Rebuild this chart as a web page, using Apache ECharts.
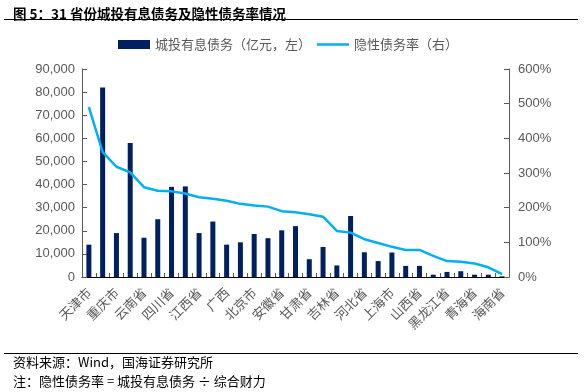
<!DOCTYPE html>
<html>
<head>
<meta charset="utf-8">
<script src="https://cdn.jsdelivr.net/npm/echarts@6/dist/echarts.min.js"></script>
<style>
html,body{margin:0;padding:0;background:#fff;}
#chart{width:588px;height:392px;}
</style>
</head>
<body>
<div id="chart"></div>
<script>
const categories = ['天津市','江苏省','重庆市','浙江省','云南省','湖南省','四川省','湖北省','江西省','山东省','广西','贵州省','北京市','河南省','安徽省','陕西省','甘肃省','宁夏','吉林省','新疆','河北省','福建省','上海市','广东省','山西省','辽宁省','黑龙江省','内蒙古','青海省','西藏','海南省'];
const debtValues = [14000,82000,19000,58000,17000,25000,39000,39200,19000,24000,14000,15000,18600,16800,20200,22000,7700,13000,5000,26400,10700,6900,10600,4800,4800,1000,2200,2500,1000,1000,300];
const ratioValues = [490,360,318,302,259,249,247,241,230,226,220,211,206,203,190,187,181,174,133,128,109,98,87,78,78,61,46,44,39,28,8];
const leftTicks = [0,10000,20000,30000,40000,50000,60000,70000,80000,90000];
const rightTicks = [0,100,200,300,400,500,600];

const cjk = '"Noto Sans CJK SC","Liberation Sans",sans-serif';
const chart = echarts.init(document.getElementById('chart'), null, {renderer:'canvas'});
function commas(v){ return String(v).replace(/\B(?=(\d{3})+(?!\d))/g, ','); }

chart.setOption({
  animation:false,
  backgroundColor:'#fff',
  title:{
    text:'图 5：31 省份城投有息债务及隐性债务率情况',
    left:8, top:2,
    textStyle:{fontFamily:cjk, fontSize:13.5, fontWeight:'bold', color:'#000'}
  },
  legend:{
    top:33, left:113,
    itemGap:6,
    textStyle:{fontFamily:cjk, fontSize:13, color:'#595959'},
    data:[
      {name:'城投有息债务（亿元，左）', icon:'rect', itemStyle:{color:'#002060'}},
      {name:'隐性债务率（右）', icon:'path://M0,0 L34,0 L34,2.5 L0,2.5 Z', itemStyle:{color:'#00B0F0'}}
    ],
    itemWidth:32, itemHeight:9
  },
  grid:{left:82, right:79, top:69, bottom:115, containLabel:false},
  xAxis:{
    type:'category',
    data:categories,
    axisLine:{lineStyle:{color:'#000', width:1}},
    axisTick:{show:true, inside:true, length:4, interval:0, lineStyle:{color:'#595959'}},
    axisLabel:{interval:1, rotate:45, fontFamily:cjk, fontSize:13, color:'#595959', margin:13}
  },
  yAxis:[
    {
      type:'value', min:leftTicks[0], max:leftTicks[leftTicks.length-1], interval:leftTicks[1]-leftTicks[0],
      axisLine:{show:true, lineStyle:{color:'#595959'}},
      axisTick:{show:true, inside:true, length:5, lineStyle:{color:'#595959'}},
      splitLine:{show:false},
      axisLabel:{formatter:commas, fontFamily:'"Liberation Sans",Arial,sans-serif', fontSize:13, color:'#595959', margin:7}
    },
    {
      type:'value', min:rightTicks[0], max:rightTicks[rightTicks.length-1], interval:rightTicks[1]-rightTicks[0],
      axisLine:{show:true, lineStyle:{color:'#595959'}},
      axisTick:{show:true, inside:true, length:5, lineStyle:{color:'#595959'}},
      splitLine:{show:false},
      axisLabel:{formatter:'{value}%', fontFamily:'"Liberation Sans",Arial,sans-serif', fontSize:13, color:'#595959', margin:9}
    }
  ],
  series:[
    {
      name:'城投有息债务（亿元，左）', type:'bar', yAxisIndex:0,
      data:debtValues, barWidth:5,
      itemStyle:{color:'#002060'}
    },
    {
      name:'隐性债务率（右）', type:'line', yAxisIndex:1,
      data:ratioValues, symbol:'none', smooth:false,
      lineStyle:{color:'#00B0F0', width:2.5},
      itemStyle:{color:'#00B0F0'}
    }
  ],
  graphic:[
    {type:'line', shape:{x1:4, y1:19.5, x2:578, y2:19.5}, style:{stroke:'#000', lineWidth:1.2}},
    {type:'line', shape:{x1:4, y1:353.5, x2:578, y2:353.5}, style:{stroke:'#000', lineWidth:1.2}},
    {type:'text', left:13, top:356, style:{text:'资料来源：Wind，国海证券研究所', font:'13px "Noto Sans CJK SC",sans-serif', fill:'#000'}},
    {type:'text', left:13, top:375, style:{text:'注：隐性债务率 = 城投有息债务 ÷ 综合财力', font:'13px "Noto Sans CJK SC",sans-serif', fill:'#000'}}
  ]
});
</script>
</body>
</html>
